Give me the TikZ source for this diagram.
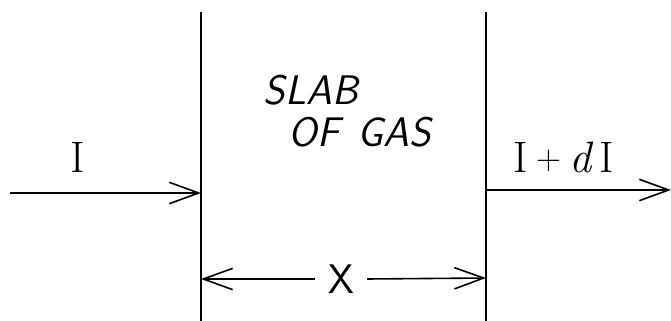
\documentclass[tikz,border=0pt]{standalone}
\usepackage{fontspec}
\usepackage{tikz}
\usetikzlibrary{positioning,arrows.meta}

\begin{document}
\begin{tikzpicture}[x=0.75pt,y=-0.75pt,line width=1.6pt,
    barb/.style={line width=1.2pt,-{Straight Barb[length=22pt,width=16pt,line width=1.2pt]}},
    lbl/.style={font=\fontsize{33}{36}\selectfont,inner sep=0pt},
    hand/.style={font=\fontsize{31}{34}\selectfont\sffamily\slshape,inner sep=0pt}]
    \useasboundingbox (0,0) rectangle (671,321);
    % walls of the slab
    \coordinate (lt) at (201,12);  \coordinate (lb) at (201,321);
    \coordinate (rt) at (486,12);  \coordinate (rb) at (486,321);
    \draw (lt) -- (lb);
    \draw (rt) -- (rb);
    % incoming beam
    \coordinate (inS) at (10,193);  \coordinate (inE) at (201,193);
    \draw[barb] (inS) -- (inE);
    \node[lbl] (inI) at (78,157) {I};
    % outgoing beam
    \coordinate (outS) at (487,190);  \coordinate (outE) at (671,190);
    \draw[barb] (outS) -- (outE);
    \node[lbl] (outI) at (564,157)
        {I\hspace{6pt}{\fontsize{26}{26}\selectfont\raisebox{2pt}{+}}\hspace{6pt}\textit{d}\hspace{5pt}I};
    % slab label
    \node[hand] (slab) at (311,90) {SLAB};
    \node[hand] (gas) at (360,132) {OF\hspace{4pt} GAS};
    % thickness
    \node[font=\fontsize{31}{33}\selectfont\sffamily,inner sep=0pt,
          minimum width=37.5pt] (xx) at (341,279) {X};
    \coordinate (dl) at (201,279);  \coordinate (dr) at (486,278);
    \draw[barb] (xx.west) -- (dl);
    \draw[barb] (xx.east) -- (dr);
\end{tikzpicture}
\end{document}
